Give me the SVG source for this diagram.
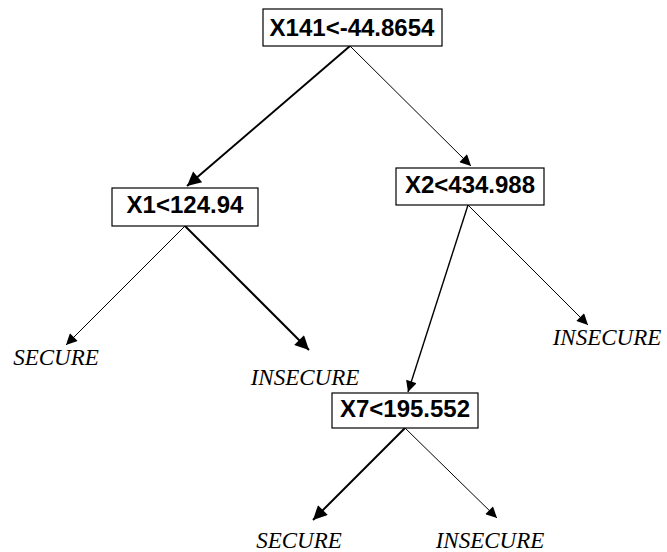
<svg xmlns="http://www.w3.org/2000/svg" width="667" height="552" viewBox="0 0 667 552">
<style>
.box{fill:#fff;stroke:#000;stroke-width:1.2}
.nt{font-family:"Liberation Sans",Arial,sans-serif;font-weight:bold;font-size:24px;text-anchor:middle;fill:#000}
.lt{font-family:"Liberation Serif","Times New Roman",serif;font-style:italic;font-size:23px;text-anchor:middle;fill:#000}
.thin{stroke:#000;stroke-width:1;fill:none}
.thick{stroke:#000;stroke-width:2;fill:none}
</style>
<defs>
<marker id="ah" viewBox="0 0 10 10" refX="10" refY="5" markerWidth="16" markerHeight="11" markerUnits="userSpaceOnUse" orient="auto">
<path d="M0,0 L10,5 L0,10 z" fill="#000"/>
</marker>
<marker id="ahb" viewBox="0 0 10 10" refX="10" refY="5" markerWidth="20" markerHeight="14" markerUnits="userSpaceOnUse" orient="auto">
<path d="M0,0 L10,5 L0,10 z" fill="#000"/>
</marker>
</defs>
<g id="connectors">
<line class="thick" x1="350" y1="46" x2="187" y2="186" marker-end="url(#ahb)"/>
<line class="thin" x1="350" y1="46" x2="471" y2="166" marker-end="url(#ah)"/>
<line class="thin" x1="185" y1="226" x2="66" y2="345" marker-end="url(#ah)"/>
<line class="thick" x1="185" y1="226" x2="309" y2="350" marker-end="url(#ahb)"/>
<line class="thin" x1="468" y1="205" x2="408" y2="392" marker-end="url(#ah)" style="stroke-width:1.4"/>
<line class="thin" x1="468" y1="205" x2="588" y2="325" marker-end="url(#ah)"/>
<line class="thick" x1="405" y1="428" x2="313" y2="520" marker-end="url(#ahb)"/>
<line class="thin" x1="405" y1="428" x2="497" y2="518" marker-end="url(#ah)"/>
</g>
<g id="n_root">
<rect class="box" x="263" y="9" width="179" height="37"/>
<text class="nt" x="352" y="36">X141&lt;-44.8654</text>
</g>
<g id="n_x1">
<rect class="box" x="112" y="188" width="146" height="38"/>
<text class="nt" x="185" y="213">X1&lt;124.94</text>
</g>
<g id="n_x2">
<rect class="box" x="396" y="168" width="148" height="37"/>
<text class="nt" x="470" y="193">X2&lt;434.988</text>
</g>
<g id="n_x7">
<rect class="box" x="332" y="393" width="146" height="35"/>
<text class="nt" x="405" y="417">X7&lt;195.552</text>
</g>
<g id="l_secure1"><text class="lt" x="56" y="365">SECURE</text></g>
<g id="l_insecure1"><text class="lt" x="305" y="385">INSECURE</text></g>
<g id="l_insecure2"><text class="lt" x="607" y="345">INSECURE</text></g>
<g id="l_secure2"><text class="lt" x="299" y="548">SECURE</text></g>
<g id="l_insecure3"><text class="lt" x="490" y="548">INSECURE</text></g>
</svg>
